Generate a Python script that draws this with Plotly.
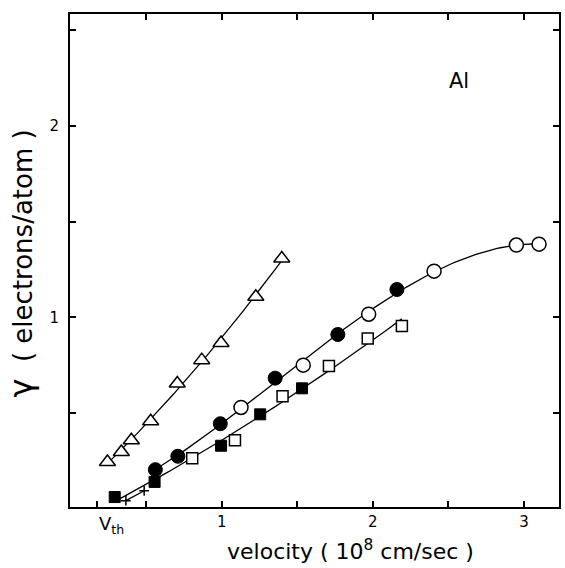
import numpy as np
import plotly.graph_objects as go

# ---- data ----
tri_x = [0.243, 0.335, 0.401, 0.529, 0.705, 0.867, 0.995, 1.225, 1.397]
tri_y = [0.245, 0.297, 0.359, 0.458, 0.655, 0.777, 0.867, 1.108, 1.308]

fcirc_x = [0.560, 0.709, 0.990, 1.353, 1.768, 2.159]
fcirc_y = [0.205, 0.275, 0.445, 0.683, 0.911, 1.146]
ocirc_x = [1.127, 1.539, 1.972, 2.405, 2.950, 3.100]
ocirc_y = [0.530, 0.751, 1.017, 1.242, 1.378, 1.383]

fsq_x = [0.291, 0.555, 0.995, 1.254, 1.531]
fsq_y = [0.062, 0.141, 0.330, 0.494, 0.630]
osq_x = [0.804, 1.087, 1.402, 1.709, 1.966, 2.192]
osq_y = [0.265, 0.359, 0.588, 0.747, 0.890, 0.955]

plus_x = [0.365, 0.486]
plus_y = [0.043, 0.095]

x_ticks = [0.175, 0.5, 1, 1.5, 2, 2.5, 3]
x_ticktext = ["", "", "1", "", "2", "", "3"]
x_top_ticks = [0.5, 1, 1.5, 2, 2.5, 3]
y_ticks = [0.5, 1, 1.5, 2, 2.5]
y_ticktext = ["", "1", "", "2", ""]
vth_value = 0.175

XR = [-0.005, 3.232]
YR = [0.01, 2.585]
FONT = "DejaVu Sans"


def guide_curve(xs, ys, deg):
    """Smooth guide-to-the-eye curve fitted to the measured points."""
    xs = np.asarray(xs, float)
    ys = np.asarray(ys, float)
    order = np.argsort(xs)
    xs, ys = xs[order], ys[order]
    coef = np.polyfit(xs, ys, deg)
    xx = np.linspace(xs[0], xs[-1], 120)
    return xx, np.polyval(coef, xx)


fig = go.Figure()
line = dict(color="black", width=1.3)

tx, ty = guide_curve(tri_x, tri_y, 2)
fig.add_trace(go.Scatter(x=tx, y=ty, mode="lines", line=line, hoverinfo="skip"))
cx, cy = guide_curve(fcirc_x + ocirc_x, fcirc_y + ocirc_y, 3)
fig.add_trace(go.Scatter(x=cx, y=cy, mode="lines", line=line, hoverinfo="skip"))
sx, sy = guide_curve(fsq_x + osq_x, fsq_y + osq_y, 2)
fig.add_trace(go.Scatter(x=sx, y=sy, mode="lines", line=line, hoverinfo="skip"))
fig.add_trace(go.Scatter(x=plus_x, y=plus_y, mode="lines+markers", line=dict(color="black", width=1.3),
                         marker=dict(symbol="cross-thin", size=7, line=dict(color="black", width=1.5))))

# markers
fig.add_trace(go.Scatter(x=tri_x, y=tri_y, mode="markers",
                         marker=dict(symbol="triangle-up", size=14, color="white",
                                     line=dict(color="black", width=1.5))))
fig.add_trace(go.Scatter(x=fcirc_x, y=fcirc_y, mode="markers",
                         marker=dict(symbol="circle", size=14, color="black",
                                     line=dict(color="black", width=1))))
fig.add_trace(go.Scatter(x=ocirc_x, y=ocirc_y, mode="markers",
                         marker=dict(symbol="circle", size=14, color="white",
                                     line=dict(color="black", width=1.5))))
fig.add_trace(go.Scatter(x=fsq_x, y=fsq_y, mode="markers",
                         marker=dict(symbol="square", size=11, color="black",
                                     line=dict(color="black", width=1))))
fig.add_trace(go.Scatter(x=osq_x, y=osq_y, mode="markers",
                         marker=dict(symbol="square", size=11, color="white",
                                     line=dict(color="black", width=1.5))))
# dummy trace to anchor top axis
fig.add_trace(go.Scatter(x=[None], y=[None], xaxis="x2", yaxis="y", showlegend=False, hoverinfo="skip"))

fig.update_layout(
    width=565, height=568,
    margin=dict(l=70, r=4, t=14, b=61),
    paper_bgcolor="white", plot_bgcolor="white",
    showlegend=False,
    font=dict(family=FONT, size=15, color="black"),
    xaxis=dict(range=XR, tickmode="array", tickvals=x_ticks, ticktext=x_ticktext,
               ticks="inside", ticklen=6, tickwidth=1.5, tickcolor="black",
               showline=True, linewidth=2, linecolor="black", mirror=True,
               showgrid=False, zeroline=False, tickfont=dict(size=15)),
    xaxis2=dict(range=XR, overlaying="x", side="top", tickmode="array", tickvals=x_top_ticks,
                ticktext=[""] * len(x_top_ticks), ticks="inside", ticklen=6, tickwidth=1.5,
                tickcolor="black", showline=False, showgrid=False, zeroline=False),
    yaxis=dict(range=YR, tickmode="array", tickvals=y_ticks, ticktext=y_ticktext,
               ticks="inside", ticklen=6, tickwidth=1.5, tickcolor="black",
               showline=True, linewidth=2, linecolor="black", mirror="ticks",
               showgrid=False, zeroline=False, tickfont=dict(size=15), ticklabelstandoff=6),
    annotations=[
        dict(text="Al", x=0.795, y=0.865, xref="paper", yref="paper", showarrow=False,
             font=dict(size=21, family=FONT), xanchor="center", yanchor="middle"),
        dict(text="V<sub>th</sub>", x=vth_value, xref="x", y=0, yref="paper", yshift=-4, xshift=0,
             showarrow=False, xanchor="left", yanchor="top", font=dict(size=18, family=FONT)),
        dict(text="velocity ( 10<sup>8</sup> cm/sec )", x=0.574, y=0, xref="paper", yref="paper",
             yshift=-27, showarrow=False, xanchor="center", yanchor="top",
             font=dict(size=22, family=FONT)),
        dict(text="<span style='font-size:32px'>γ</span>  ( electrons/atom )", x=0, y=0.5,
             xref="paper", yref="paper", xshift=-50, yshift=-3, textangle=-90, showarrow=False,
             xanchor="center", yanchor="middle", font=dict(size=26, family=FONT)),
    ],
)

fig.write_html("out.html")
